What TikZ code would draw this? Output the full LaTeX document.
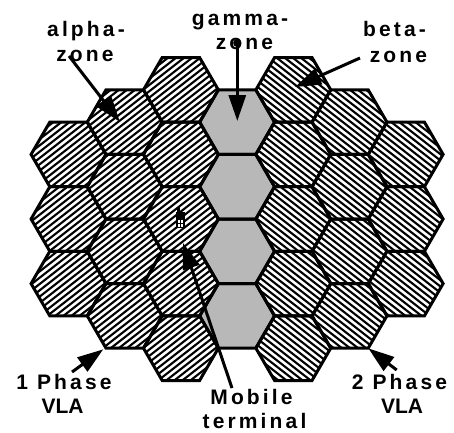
\documentclass[tikz,border=0pt]{standalone}
\usepackage{fontspec}
\setmainfont{Liberation Sans}
\newfontfamily\lblfont[LetterSpace=15]{Liberation Sans Bold}
\newfontfamily\vlafont[LetterSpace=0]{Liberation Sans Bold}
\usetikzlibrary{arrows.meta}
\begin{document}
\begin{tikzpicture}[x=1pt,y=-1pt,
  hexshape/.style={line width=3pt, line join=miter},
  hatchline/.style={line width=2.1pt},
  grayfill/.style={fill=black!28},
  lbl/.style={anchor=base, inner sep=0pt, font=\lblfont\fontsize{21}{21}\selectfont},
  vlalbl/.style={anchor=base, inner sep=0pt, font=\vlafont\fontsize{21}{21}\selectfont},
  pointer/.style={line width=3pt, -{Triangle[length=26pt,width=17pt]}},
]
\useasboundingbox (0,0) rectangle (454,432);
\def\hexp(#1,#2){(#1,#2) ++(-37.4,0) -- ++(18.7,-32.3) -- ++(37.4,0) -- ++(18.7,32.3) -- ++(-18.7,32.3) -- ++(-37.4,0) -- cycle}
% left hatched columns
\begin{scope}
\clip \foreach \cx/\cy in {68.5/154.4,68.5/219,68.5/283.6,
  124.7/122.1,124.7/186.7,124.7/251.3,124.7/315.9,
  180.9/89.8,180.9/154.4,180.9/219,180.9/283.6,180.9/348.2} {\hexp(\cx,\cy)};
\foreach \b in {0,6.3,...,800} \draw[hatchline] (0,\b) -- (454,\b-354.7);
\end{scope}
% right hatched columns
\begin{scope}
\clip \foreach \cx/\cy in {405.7/154.4,405.7/219,405.7/283.6,
  349.5/122.1,349.5/186.7,349.5/251.3,349.5/315.9,
  293.3/89.8,293.3/154.4,293.3/219,293.3/283.6,293.3/348.2} {\hexp(\cx,\cy)};
\foreach \b in {-360,-353.7,...,440} \draw[hatchline] (0,\b) -- (454,\b+354.7);
\end{scope}
% gamma column
\foreach \cx/\cy in {237.1/122.1,237.1/186.7,237.1/251.3,237.1/315.9}
  \fill[grayfill] \hexp(\cx,\cy);
% borders
\foreach \cx/\cy in {68.5/154.4,68.5/219,68.5/283.6,
  124.7/122.1,124.7/186.7,124.7/251.3,124.7/315.9,
  180.9/89.8,180.9/154.4,180.9/219,180.9/283.6,180.9/348.2,
  237.1/122.1,237.1/186.7,237.1/251.3,237.1/315.9,
  293.3/89.8,293.3/154.4,293.3/219,293.3/283.6,293.3/348.2,
  349.5/122.1,349.5/186.7,349.5/251.3,349.5/315.9,
  405.7/154.4,405.7/219,405.7/283.6}
  \draw[hexshape] \hexp(\cx,\cy);
% mobile terminal icon
\fill (176,212) rectangle (185,228);
\fill (177,207) rectangle (179.5,212);
\fill[white] (177.6,219.5) rectangle (183.4,226.5);
\draw[line width=0.8pt] (177.6,223) -- (183.4,223) (180.5,219.5) -- (180.5,226.5);
% labels
\node[lbl] (alphaA) at (86,36.5) {alpha-};
\node[lbl] (alphaB) at (85,61.7) {zone};
\node[lbl] (gammaA) at (240,25) {gamma-};
\node[lbl] (gammaB) at (244.5,49.3) {zone};
\node[lbl] (betaA) at (394.5,36) {beta-};
\node[lbl] (betaB) at (398.5,62) {zone};
\node[lbl] (oneA) at (64,389.3) {1 Phase};
\node[vlalbl] (oneB) at (62.5,413.3) {VLA};
\node[lbl] (twoA) at (399.5,389.3) {2 Phase};
\node[vlalbl] (twoB) at (402,413) {VLA};
\node[lbl] (mobA) at (251.5,404.3) {Mobile};
\node[lbl] (mobB) at (254.5,428) {terminal};
% arrow ends
\coordinate (alphaS) at (69,56);
\coordinate (alphaT) at (120,122);
\coordinate (gammaS) at (237.3,39);
\coordinate (gammaT) at (237.3,121);
\coordinate (betaS) at (360,58);
\coordinate (betaT) at (295,87);
\coordinate (oneS) at (72,372);
\coordinate (oneT) at (103.3,349.3);
\coordinate (twoS) at (396.7,370);
\coordinate (twoT) at (368.3,348.3);
\coordinate (mobS) at (232,388);
\coordinate (mobT) at (183,243);
\draw[pointer] (alphaS) -- (alphaT);
\draw[pointer, {Circle[length=8pt]}-{Triangle[length=26pt,width=17pt]}] (gammaS) -- (gammaT);
\draw[pointer] (betaS) -- (betaT);
\draw[pointer] (oneS) -- (oneT);
\draw[pointer] (twoS) -- (twoT);
\draw[pointer] (mobS) -- (mobT);
\end{tikzpicture}
\end{document}
